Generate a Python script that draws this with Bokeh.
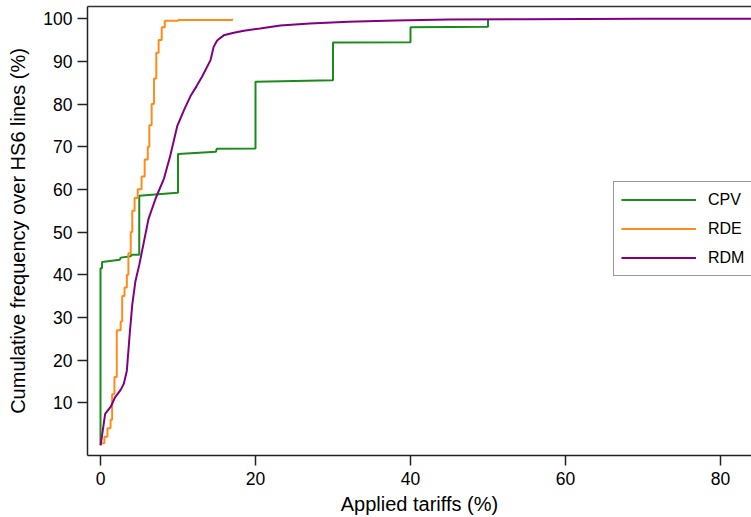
from bokeh.plotting import figure
from bokeh.models import Legend, LegendItem, LinearAxis, Range1d, FixedTicker
from bokeh.embed import file_html
from bokeh.resources import INLINE

# ---- data ----
cpv_x = [0, 0, 0.2, 0.2, 2.5, 2.6, 3.9, 4.0, 5, 5, 9.9, 10, 10, 14.9, 15, 20, 20, 30, 30, 40, 40, 50, 50]
cpv_y = [0, 41.5, 41.5, 43, 43.5, 44, 44.3, 44.7, 44.7, 58.5, 59.2, 59.2, 68.3, 68.8, 69.5, 69.6, 85.2, 85.6, 94.4, 94.5, 98.0, 98.1, 99.9]

rde_x = [0, 0.5, 0.9, 1.3, 1.5, 1.8, 2.1, 2.6, 2.8, 3.1, 3.4, 3.6, 3.9, 4.1, 4.4, 4.8, 5.3, 5.7, 6.1, 6.3, 6.6, 6.9, 7.2, 7.5, 7.9, 8.3, 10, 17]
rde_y = [0.5, 2, 4, 6, 12, 16, 27, 29, 35, 37, 40, 45, 50, 55, 58, 60, 63, 67, 70, 75, 80, 86, 92, 95, 98, 99.5, 99.7, 100]

rdm_x = [0, 0.05, 0.6, 1.3, 1.9, 2.6, 3.0, 3.4, 3.8, 4.1, 4.5, 5.0, 5.6, 6.2, 7.1, 8.2, 9.0, 9.9, 10.8, 11.6, 12.4, 13.1, 14.2, 14.6,
         15.05, 15.9, 17.2, 18.5, 20.6, 23.2, 27, 32, 38, 45, 55, 70, 86]
rdm_y = [0, 0.4, 7.4, 9.0, 11.3, 13.0, 14.4, 17.5, 26.8, 33.0, 38.4, 42.3, 47.7, 53.1, 57.8, 62.6, 67.9, 74.8, 78.7, 81.8, 84.2, 86.4, 90.3, 93.4,
         94.9, 96.1, 96.7, 97.2, 97.7, 98.4, 98.9, 99.3, 99.6, 99.8, 99.9, 100, 100]

series_names = ["CPV", "RDE", "RDM"]
series_colors = ["#1a8c1a", "#ff8c1a", "#800080"]

x_ticks = [0, 20, 40, 60, 80]
y_ticks = [10, 20, 30, 40, 50, 60, 70, 80, 90, 100]

FONT = "Liberation Sans"

p = figure(width=751, height=517, output_backend="svg", toolbar_location=None,
           x_range=Range1d(-1.677, 84.0), y_range=Range1d(-2.38, 102.86),
           min_border_top=6, min_border_left=87, min_border_right=0, min_border_bottom=58,
           x_axis_label="Applied tariffs (%)",
           y_axis_label="Cumulative frequency over HS6 lines (%)")
p.outline_line_color = None
p.grid.visible = False
p.background_fill_color = "white"
p.border_fill_color = "white"

r_cpv = p.line(cpv_x, cpv_y, line_color=series_colors[0], line_width=2)
r_rde = p.step(rde_x, rde_y, mode="after", line_color=series_colors[1], line_width=2)
r_rdm = p.line(rdm_x, rdm_y, line_color=series_colors[2], line_width=2)

for ax in (p.xaxis[0], p.yaxis[0]):
    ax.axis_line_color = "#222222"
    ax.axis_line_width = 1.5
    ax.major_tick_line_color = "#222222"
    ax.major_tick_line_width = 1.5
    ax.major_tick_out = 10
    ax.major_tick_in = 0
    ax.minor_tick_line_color = None
    ax.major_label_text_font = FONT
    ax.major_label_text_font_size = "17.5px"
    ax.major_label_text_color = "black"
    ax.axis_label_text_font = FONT
    ax.axis_label_text_font_size = "20px"
    ax.axis_label_text_font_style = "normal"
    ax.axis_label_text_color = "black"

p.xaxis[0].ticker = FixedTicker(ticks=x_ticks)
p.yaxis[0].ticker = FixedTicker(ticks=y_ticks)
p.xaxis[0].major_label_standoff = 6
p.xaxis[0].axis_label_standoff = 5
p.yaxis[0].major_label_standoff = 5
p.yaxis[0].axis_label_standoff = 11

top = LinearAxis(ticker=FixedTicker(ticks=[]), axis_line_color="#333333", axis_line_width=1.5,
                 major_tick_line_color=None, minor_tick_line_color=None,
                 major_label_text_font_size="0px")
p.add_layout(top, "above")

legend = Legend(items=[LegendItem(label=series_names[0], renderers=[r_cpv]),
                       LegendItem(label=series_names[1], renderers=[r_rde]),
                       LegendItem(label=series_names[2], renderers=[r_rdm])],
                location=(526, 179),
                label_text_font=FONT, label_text_font_size="16px", label_text_color="black",
                glyph_width=75, glyph_height=21, label_height=21, label_width=120,
                label_standoff=12, spacing=8, padding=7, margin=0,
                border_line_color="#333333", border_line_width=1.5,
                background_fill_color="white", background_fill_alpha=1.0)
p.add_layout(legend, "center")

open("out.html", "w").write(file_html(p, INLINE))
